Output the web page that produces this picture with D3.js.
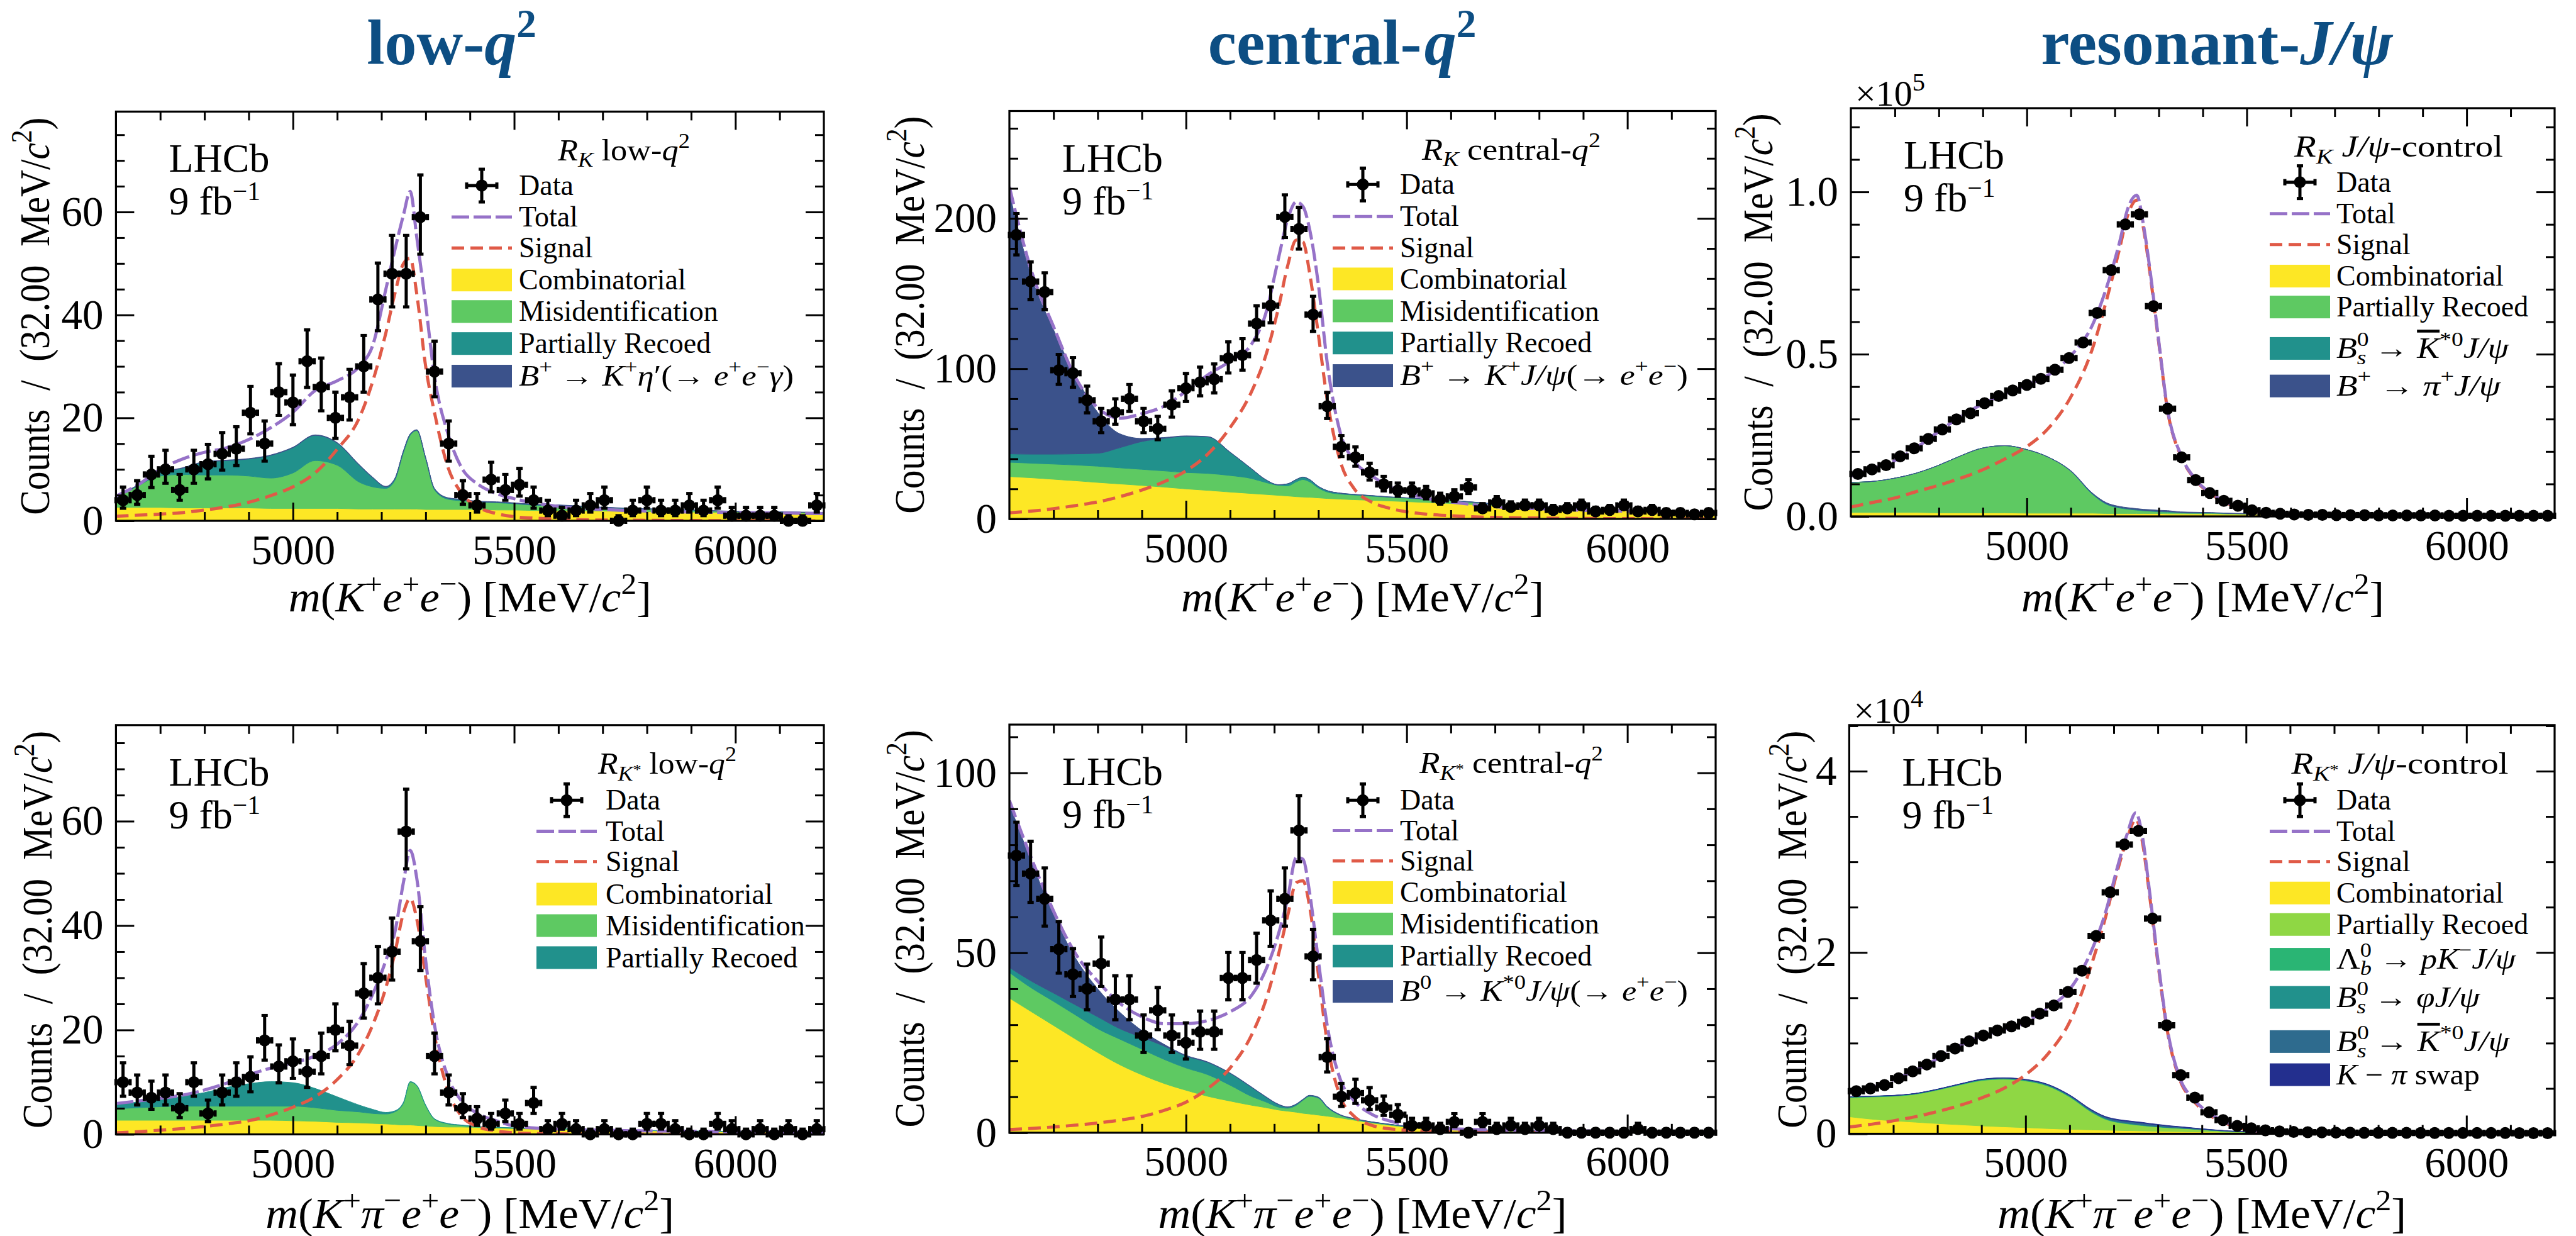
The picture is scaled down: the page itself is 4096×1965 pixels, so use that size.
<!DOCTYPE html>
<html><head><meta charset="utf-8">
<script src="https://cdn.jsdelivr.net/npm/d3@7"></script>
<style>body{margin:0;background:#fff}svg{display:block}text{font-family:"Liberation Serif",serif;fill:#000}</style>
</head><body><script>
// ---------------- DATA ----------------
const binCenters = [4616,4648,4680,4712,4744,4776,4808,4840,4872,4904,4936,4968,5000,5032,5064,5096,5128,5160,5192,5224,5256,5288,5320,5352,5384,5416,5448,5480,5512,5544,5576,5608,5640,5672,5704,5736,5768,5800,5832,5864,5896,5928,5960,5992,6024,6056,6088,6120,6152,6184];
const massGrid = [4600,4650,4700,4750,4800,4850,4900,4950,5000,5050,5100,5150,5180,5210,5230,5250,5265,5280,5300,5320,5350,5380,5420,5460,5500,5550,5600,5700,5800,5900,6000,6100,6200];
const xMajorTicks = [5000,5500,6000];
const xMinorTicks = [4700,4800,4900,5100,5200,5300,5400,5600,5700,5800,5900,6100];

// R_K low-q2
const p1Counts = [4,5,9,10,6,10,11,13,14,21,15,25,23,31,26,20,24,30,43,48,48,59,29,15,5,3,8,6,7,4,2,1,2,3,4,0,2,4,2,2,3,2,4,1,1,1,1,0,0,3];
const p1Total = [4.8,7.0,10.0,12.0,13.3,14.2,15.8,18.1,21.1,25.3,27.2,30,34,45,52.5,59.5,64,55,42,28,17,10.5,7.0,5.3,4.3,3.4,2.8,2.2,1.9,1.7,1.6,1.5,1.4];
const p1Signal = [0.9,1.1,1.3,1.6,2.1,2.7,3.6,4.9,6.6,9.3,13.9,20,27,36.5,44,50,51,44,30,21,10.5,5.5,2.6,1.4,0.8,0.5,0.3,0.15,0.1,0.05,0.03,0.02,0.01];
const p1Comb = [2.6,2.6,2.6,2.5,2.5,2.5,2.5,2.4,2.4,2.4,2.4,2.3,2.3,2.3,2.3,2.3,2.3,2.3,2.2,2.2,2.2,2.2,2.2,2.1,2.1,2.0,2.0,1.9,1.8,1.7,1.6,1.5,1.4];
const p1Misid = [1.8,4.2,6.1,6.5,6.4,6.4,6.2,5.9,6.9,9.3,8.4,5.2,4.3,4.0,5.5,11.0,14.3,15.2,9.8,3.8,2.0,1.7,1.4,1.4,1.2,1.0,0.9,0.6,0.5,0.3,0.2,0.2,0.2];
const p1PartReco = [0.1,0.1,0.6,1.2,2.5,2.8,3.3,4.4,4.9,4.9,4.3,3.3,1.8,0.3,0.3,0.3,0.2,0.1,0.2,0.2,0.2,0.2,0.1,0.1,0.1,0.1,0.1,0.1,0,0.1,0,0,0];
const p1EtaPrime = [0.1,0.1,0.1,0.1,0.1,0.1,0.1,0.1,0.1,0.1,0.1,0.1,0.1,0.1,0.1,0.1,0.1,0.1,0.1,0.1,0.1,0.1,0.1,0.1,0.1,0.1,0.1,0.05,0.05,0.05,0.05,0.05,0.05];

// R_K central-q2
const p2Counts = [189,158,151,99,97,79,65,71,80,65,60,76,87,91,93,107,109,130,142,201,193,136,75,48,41,31,23,19,19,17,13,15,21,7,11,8,9,9,6,7,9,5,6,9,5,6,4,4,3,4];
const p2Total = [221,165,128,94,74,67,70,75,85,96,105,117,136,174,199,211,208,193,156,104,57,39,29,21.6,17.5,13.4,11.3,8.2,6.8,5.8,5.2,4.5,4.1];
const p2Signal = [4.1,5.2,6.8,8.9,11.3,14.8,19.2,24.7,32,43.3,60.8,85.6,108,141,168,185.6,184.5,164,122.7,79.4,38,20.6,11.3,7.2,4.7,3.1,2.1,1.0,0.6,0.3,0.2,0.1,0.1];
const p2Comb = [28.2,27.4,26.4,25.4,24.3,23.3,22.3,21.2,20.0,19.0,17.9,16.9,16.3,15.7,15.3,14.8,14.6,14.4,14.0,13.6,13.2,12.8,12.4,12.0,11.5,10.9,10.3,8.9,7.6,6.6,5.6,4.7,3.9];
const p2Misid = [9.5,9.7,10.1,10.5,10.8,10.7,10.7,10.8,10.9,11.3,11.0,9.9,8.0,6.6,6.7,9.9,11.6,10.3,6.6,4.3,3.3,3.1,2.7,2.4,2.3,2.1,1.9,0.8,0.4,0.3,0.2,0.2,0.2];
const p2PartReco = [5.6,6.0,6.6,7.4,8.6,13.4,18.5,21.6,24.1,24.3,15.4,6.2,1.9,0.4,1.3,1.5,1.6,1.5,1.0,0.9,0.6,0.4,0.4,0.2,0.2,0.2,0.2,0.2,0.2,0.1,0.1,0.1,0.1];
const p2JpsiLeak = [173.7,117.9,82.9,51.7,27.3,9.3,2.1,0.6,0.3,0.2,0.2,0.1,0.1,0.1,0.1,0.1,0.1,0.1,0.1,0.1,0.1,0.1,0.1,0.1,0.1,0.1,0.1,0.1,0.1,0.1,0.1,0.1,0.1];

// R_K J/psi-control (x1e5)
const p3Counts = [0.131,0.145,0.158,0.185,0.210,0.239,0.268,0.299,0.318,0.349,0.371,0.388,0.405,0.424,0.452,0.488,0.536,0.627,0.759,0.900,0.931,0.648,0.332,0.182,0.112,0.072,0.048,0.033,0.019,0.011,0.008,0.006,0.005,0.005,0.004,0.004,0.004,0.003,0.003,0.003,0.003,0.003,0.002,0.002,0.002,0.002,0.002,0.002,0.002,0.002];
const p3Total = [0.124,0.148,0.172,0.213,0.262,0.308,0.347,0.378,0.405,0.437,0.495,0.592,0.70,0.84,0.95,0.99,0.90,0.76,0.54,0.33,0.19,0.12,0.07,0.04,0.022,0.011,0.007,0.004,0.003,0.003,0.002,0.002,0.002];
const p3Signal = [0.029,0.043,0.057,0.077,0.096,0.118,0.144,0.177,0.215,0.273,0.368,0.52,0.66,0.82,0.93,0.975,0.89,0.75,0.535,0.327,0.187,0.118,0.068,0.038,0.02,0.009,0.005,0.002,0.001,0,0,0,0];
const p3Comb = [0.012,0.012,0.012,0.012,0.011,0.011,0.011,0.011,0.010,0.010,0.010,0.010,0.009,0.009,0.009,0.009,0.009,0.009,0.009,0.008,0.008,0.008,0.008,0.007,0.007,0.007,0.006,0.006,0.005,0.005,0.004,0.004,0.004];
const p3PartReco = [0.093,0.096,0.106,0.122,0.147,0.176,0.200,0.207,0.196,0.172,0.129,0.057,0.029,0.017,0.013,0.010,0.008,0.007,0.005,0.005,0.003,0.002,0.002,0.002,0.001,0,0,0,0,0,0,0,0];
const p3BsKst = [0,0,0,0,0,0,0,0,0,0,0.001,0.002,0.002,0.002,0.002,0.002,0.002,0.002,0.002,0.002,0.001,0.001,0.001,0,0,0,0,0,0,0,0,0,0];
const p3BPi = [0,0,0,0,0,0,0,0,0,0,0.001,0.002,0.003,0.003,0.003,0.003,0.003,0.003,0.003,0.003,0.002,0.002,0.001,0.001,0.001,0,0,0,0,0,0,0,0];

// R_K* low-q2
const p4Counts = [10,8,7,8,5,10,4,8,10,11,18,13,14,12,15,20,17,27,30,35,58,37,15,8,5,3,2,4,2,6,1,2,1,0,1,0,0,2,2,1,0,0,2,1,0,1,0,1,0,1];
const p4Total = [5.9,6.4,6.9,7.5,8.5,9.8,11.4,12.7,13.7,15.0,17.3,21.9,26.8,33.3,38.6,48.4,54.4,49,33.3,20.9,11.1,6.5,3.9,2.6,1.6,1.2,1.0,0.8,0.65,0.6,0.5,0.45,0.4];
const p4Signal = [0.3,0.5,0.8,1.1,1.5,2.0,2.6,3.7,5.2,7.2,10.5,15.7,20.9,28.1,34.6,42.5,45.2,41.2,30.1,19.0,8.5,3.6,1.4,0.65,0.3,0.15,0.1,0.05,0.03,0.02,0.01,0.01,0];
const p4Comb = [2.7,2.7,2.7,2.7,2.7,2.7,2.7,2.7,2.6,2.5,2.3,2.2,2.1,2.0,1.9,1.8,1.8,1.7,1.6,1.5,1.4,1.4,1.3,1.2,1.1,1.0,0.95,0.8,0.7,0.6,0.5,0.45,0.4];
const p4Misid = [2.2,2.4,2.6,2.7,2.7,2.7,2.7,2.7,2.8,2.6,2.3,2.1,1.9,1.9,2.4,4.2,8.2,7.6,3.9,1.4,0.6,0.3,0.1,0.1,0.1,0.1,0.1,0.05,0.02,0.02,0.02,0.01,0.01];
const p4PartReco = [0.8,1.1,1.3,1.9,2.6,3.6,4.3,4.7,4.5,3.7,2.6,1.3,0.8,0.3,0.2,0.2,0.1,0.1,0.1,0.1,0.1,0.1,0.1,0.05,0.05,0.05,0.05,0.05,0.03,0.02,0.02,0.01,0.01];

// R_K* central-q2
const p5Counts = [77,72,65,51,44,40,47,37,37,27,34,27,25,28,28,43,43,48,59,65,84,49,21,10,11,9,7,5,2,2,1,3,0,3,1,2,1,2,1,0,0,0,0,0,1,0,0,0,0,0];
const p5Total = [92.3,76.2,61.6,49.7,42.1,36,32.2,30.3,30.3,31.2,33.6,38.4,45,55.4,64.9,76.5,76,66.8,47.8,29.8,14.7,9,5.2,3.3,2.2,1.4,1.1,0.8,0.6,0.5,0.4,0.35,0.3];
const p5Signal = [0.9,1.2,1.6,2.1,2.7,3.5,4.5,6.2,8.5,12.3,18,27.5,36.5,49.7,60.1,69.5,70,63,44,25.1,9.9,4.7,2.1,1.1,0.7,0.4,0.25,0.15,0.1,0.05,0.03,0.02,0.01];
const p5Comb = [37.4,33.6,29.8,26,22.3,18.9,16.1,13.7,11.8,10.1,8.8,7.6,7.0,6.3,6.0,5.7,5.4,5.2,4.9,4.6,4.1,3.5,2.7,2.1,1.5,1.1,0.8,0.5,0.4,0.3,0.25,0.2,0.17];
const p5Misid = [7.1,6.6,6.7,6.7,6.6,7.1,7.1,6.7,6.2,6.0,4.4,2.4,1.6,0.8,0.8,1.9,3.6,4.9,4.7,2.4,0.7,0.3,0.2,0.2,0.2,0.2,0.2,0.15,0.12,0.12,0.08,0.07,0.05];
const p5PartReco = [1.4,1.9,2.3,2.8,3.3,2.9,3.3,3.7,3.3,3.4,3.3,2.5,1.4,0.7,0.3,0.3,0.2,0.2,0.2,0.2,0.1,0.1,0.1,0.05,0.05,0.05,0.05,0.05,0.03,0.03,0.02,0.02,0.02];
const p5JpsiLeak = [45.5,33.2,21.7,13,7.8,4.6,1.9,0.5,0.2,0.15,0.1,0.1,0.1,0.1,0.1,0.1,0.1,0.1,0.1,0.1,0.1,0.1,0.05,0.05,0.05,0.05,0.05,0.05,0.05,0.05,0.05,0.05,0.05];

// R_K* J/psi-control (x1e4)
const p6Counts = [0.470,0.500,0.538,0.613,0.689,0.764,0.858,0.941,1.020,1.084,1.140,1.185,1.234,1.325,1.415,1.565,1.799,2.182,2.664,3.191,3.341,2.374,1.197,0.647,0.399,0.237,0.151,0.087,0.060,0.038,0.026,0.020,0.017,0.015,0.013,0.012,0.011,0.011,0.010,0.010,0.009,0.009,0.009,0.008,0.008,0.008,0.008,0.007,0.007,0.007];
const p6Total = [0.463,0.508,0.595,0.700,0.828,0.971,1.076,1.148,1.234,1.385,1.592,2.024,2.420,2.97,3.30,3.54,3.28,2.72,1.92,1.20,0.613,0.388,0.218,0.117,0.056,0.023,0.015,0.012,0.011,0.010,0.009,0.008,0.008];
const p6Signal = [0.075,0.105,0.143,0.188,0.245,0.312,0.395,0.500,0.651,0.877,1.234,1.874,2.363,2.93,3.25,3.47,3.22,2.68,1.89,1.18,0.595,0.369,0.199,0.105,0.049,0.019,0.008,0.003,0.001,0,0,0,0];
const p6Comb = [0.188,0.162,0.143,0.128,0.113,0.100,0.087,0.077,0.068,0.058,0.049,0.043,0.040,0.037,0.035,0.033,0.031,0.030,0.028,0.026,0.024,0.021,0.019,0.016,0.013,0.011,0.009,0.007,0.006,0.005,0.004,0.004,0.003];
const p6PartReco = [0.211,0.244,0.271,0.308,0.369,0.438,0.500,0.525,0.515,0.469,0.357,0.194,0.122,0.087,0.075,0.065,0.059,0.053,0.047,0.042,0.036,0.031,0.019,0.012,0.006,0.003,0.002,0.001,0.001,0.001,0.001,0,0];
const p6Lb = [0.005,0.005,0.005,0.005,0.005,0.005,0.006,0.006,0.006,0.006,0.006,0.006,0.006,0.005,0.005,0.004,0.004,0.003,0.003,0.002,0.002,0.001,0.001,0,0,0,0,0,0,0,0,0,0];
const p6Phi = [0.003,0.003,0.003,0.003,0.003,0.004,0.004,0.004,0.004,0.004,0.004,0.004,0.004,0.004,0.003,0.003,0.003,0.003,0.002,0.002,0.002,0.001,0.001,0,0,0,0,0,0,0,0,0,0];
const p6BsKst = [0,0,0,0,0,0,0.002,0.003,0.004,0.006,0.008,0.012,0.015,0.018,0.02,0.022,0.022,0.02,0.018,0.015,0.011,0.008,0.005,0.003,0.002,0.001,0,0,0,0,0,0,0];
const p6Swap = [0.002,0.002,0.002,0.002,0.003,0.003,0.003,0.003,0.004,0.004,0.005,0.006,0.006,0.007,0.007,0.007,0.007,0.006,0.006,0.005,0.004,0.003,0.002,0.001,0.001,0,0,0,0,0,0,0,0];

// ---------------- STYLE / LAYOUT ----------------
const S = 0.878;
const W = 4096, H = 1965;
const COL = {comb:"#fde725", misid:"#5ec962", pr:"#21918c", peak:"#3b528b",
  pr6:"#8fd744", lb:"#2ab574", phi:"#21918c", bsk:"#2e6b8e", swap:"#232f8e",
  total:"#9672c8", signal:"#e05a47", title:"#0d4e83"};
const FS = {tick:67, axis:67, leg:46, legT:48, lhcb:64, title:102, mult:58};

const svg = d3.select("body").append("svg").attr("width",W).attr("height",H);

function rich(sel, tokens, fs, len){
  sel.style("white-space","pre");
  let cur = 0;
  for (const tk of tokens){
    const t = tk[0], f = tk[1]||"", o = tk[2]||{};
    const sup = f.includes("^"), sub = f.includes("_");
    const k = o.k || ((sup||sub) ? 0.7 : 1);
    const lvl = (o.s !== undefined) ? o.s : (sup ? 0.42 : (sub ? -0.22 : 0));
    const ts = sel.append("tspan").text(t).attr("font-size", fs*k);
    if (f.includes("i")) ts.attr("font-style","italic");
    if (f.includes("o")) ts.style("text-decoration","overline");
    const dy = -(lvl-cur)*fs;
    if (dy !== 0) ts.attr("dy", dy);
    if (o.dx) ts.attr("dx", o.dx*fs);
    cur = lvl;
  }
  if (len) sel.attr("textLength", len).attr("lengthAdjust","spacingAndGlyphs");
  return sel;
}

const T = {
  data:[["Data",""]], total:[["Total",""]], signal:[["Signal",""]], comb:[["Combinatorial",""]],
  misid:[["Misidentification",""]], pr:[["Partially Recoed",""]],
  eta:[["B","i"],["+","^"],[" → ",""],["K","i"],["+","^"],["η","i"],["′",""],["(→ ",""],["e","i"],["+","^"],["e","i"],["−","^"],["γ","i"],[")",""]],
  kjpsi:[["B","i"],["+","^"],[" → ",""],["K","i"],["+","^"],["J/ψ","i"],["(→ ",""],["e","i"],["+","^"],["e","i"],["−","^"],[")",""]],
  bsk:[["B","i"],["0","^"],["s","_i",{dx:-0.35}],[" → ",""],["K","io"],["*0","^"],["J/ψ","i"]],
  bpi:[["B","i"],["+","^"],[" → ",""],["π","i"],["+","^"],["J/ψ","i"]],
  kst:[["B","i"],["0","^"],[" → ",""],["K","i"],["*0","^"],["J/ψ","i"],["(→ ",""],["e","i"],["+","^"],["e","i"],["−","^"],[")",""]],
  lb:[["Λ",""],["0","^"],["b","_i",{dx:-0.35}],[" → ",""],["pK","i"],["−","^"],["J/ψ","i"]],
  phi:[["B","i"],["0","^"],["s","_i",{dx:-0.35}],[" → ",""],["φJ/ψ","i"]],
  swap:[["K","i"],[" − ",""],["π","i"],[" swap",""]]
};
const E = {
  data:{kind:"data",label:T.data}, total:{kind:"line",color:COL.total,dash:"28,7",label:T.total},
  signal:{kind:"line",color:COL.signal,dash:"20,10",label:T.signal}, comb:{kind:"patch",color:COL.comb,label:T.comb}
};
const RK = [["R","i"],["K","_i"]];
const RKs = [["R","i"],["K","_i"],["*","",{k:0.5,s:-0.02}]];

const xLabK = [["m","i"],["(",""],["K","i"],["+","^"],["e","i"],["+","^"],["e","i"],["−","^"],[") [MeV/",""],["c","i"],["2","^"],["]",""]];
const xLabKs = [["m","i"],["(",""],["K","i"],["+","^"],["π","i"],["−","^"],["e","i"],["+","^"],["e","i"],["−","^"],[") [MeV/",""],["c","i"],["2","^"],["]",""]];
const yLab = [["Counts  /  (32.00  MeV/",""],["c","i"],["2","^"],[")",""]];

const panels = [
 {box:[184.4,177.4,1310,828], yMax:79.5, yMajor:[0,20,40,60], yStep:5, fmt:d3.format("d"), scale:1, ylOff:-130,
  counts:p1Counts, total:p1Total, signal:p1Signal, xlab:xLabK, xlabY:972, xlabW:577,
  comps:[{v:p1Comb,c:COL.comb},{v:p1Misid,c:COL.misid},{v:p1PartReco,c:COL.pr},{v:p1EtaPrime,c:COL.peak}],
  leg:{hx:718, tx:825, tcx:992, tw:210, title:RK.concat([[" low-",""],["q","i"],["2","^"]]), rows:[134,191,247,305,362,420,479],
    entries:[E.data,E.total,E.signal,E.comb,{kind:"patch",color:COL.misid,label:T.misid},{kind:"patch",color:COL.pr,label:T.pr},{kind:"patch",color:COL.peak,label:T.eta,w:437}]}},
 {box:[1605,176.5,2728,825], yMax:271.5, yMajor:[0,100,200], yStep:20, fmt:d3.format("d"), scale:1, ylOff:-159,
  counts:p2Counts, total:p2Total, signal:p2Signal, xlab:xLabK, xlabY:972, xlabW:577,
  comps:[{v:p2Comb,c:COL.comb},{v:p2Misid,c:COL.misid},{v:p2PartReco,c:COL.pr},{v:p2JpsiLeak,c:COL.peak}],
  leg:{hx:2119, tx:2226, tcx:2403, tw:284, title:RK.concat([[" central-",""],["q","i"],["2","^"]]), rows:[133,191,248,304,362,420,479],
    entries:[E.data,E.total,E.signal,E.comb,{kind:"patch",color:COL.misid,label:T.misid},{kind:"patch",color:COL.pr,label:T.pr},{kind:"patch",color:COL.peak,label:T.kjpsi,w:458}]}},
 {box:[2943,172,4062,821], yMax:1.258, yMajor:[0,0.5,1.0], yStep:0.1, fmt:d3.format(".1f"), scale:1e5, ylOff:-148, mult:"5",
  counts:p3Counts, total:p3Total, signal:p3Signal, xlab:xLabK, xlabY:972, xlabW:577,
  comps:[{v:p3Comb,c:COL.comb},{v:p3PartReco,c:COL.misid},{v:p3BsKst,c:COL.pr},{v:p3BPi,c:COL.peak}],
  leg:{hx:3609, tx:3715, tcx:3814, tw:332, title:RK.concat([[" ",""],["J/ψ","i"],["-control",""]]), rows:[134,191,247,304,360,435,503],
    entries:[E.data,E.total,E.signal,E.comb,{kind:"patch",color:COL.misid,label:T.pr},{kind:"patch",color:COL.pr,label:T.bsk,w:274},{kind:"patch",color:COL.peak,label:T.bpi,w:261}]}},
 {box:[184.4,1152.8,1310,1803.4], yMax:78.4, yMajor:[0,20,40,60], yStep:5, fmt:d3.format("d"), scale:1, ylOff:-126,
  counts:p4Counts, total:p4Total, signal:p4Signal, xlab:xLabKs, xlabY:1952, xlabW:650,
  comps:[{v:p4Comb,c:COL.comb},{v:p4Misid,c:COL.misid},{v:p4PartReco,c:COL.pr}],
  leg:{hx:853, tx:963, tcx:1061, tw:220, title:RKs.concat([[" low-",""],["q","i"],["2","^"]]), rows:[136,192,247,306,363,421],
    entries:[E.data,E.total,E.signal,E.comb,{kind:"patch",color:COL.misid,label:T.misid},{kind:"patch",color:COL.pr,label:T.pr}]}},
 {box:[1605,1152,2728,1800.8], yMax:113.4, yMajor:[0,50,100], yStep:10, fmt:d3.format("d"), scale:1, ylOff:-159,
  counts:p5Counts, total:p5Total, signal:p5Signal, xlab:xLabKs, xlabY:1952, xlabW:650,
  comps:[{v:p5Comb,c:COL.comb},{v:p5Misid,c:COL.misid},{v:p5PartReco,c:COL.pr},{v:p5JpsiLeak,c:COL.peak}],
  leg:{hx:2119, tx:2226, tcx:2403, tw:292, title:RKs.concat([[" central-",""],["q","i"],["2","^"]]), rows:[137,192,247,304,361,419,483],
    entries:[E.data,E.total,E.signal,E.comb,{kind:"patch",color:COL.misid,label:T.misid},{kind:"patch",color:COL.pr,label:T.pr},{kind:"patch",color:COL.peak,label:T.kst,w:458}]}},
 {box:[2940.4,1152.8,4062,1802.5], yMax:4.508, yMajor:[0,2,4], yStep:0.5, fmt:d3.format("d"), scale:1e4, ylOff:-92, mult:"4",
  counts:p6Counts, total:p6Total, signal:p6Signal, xlab:xLabKs, xlabY:1952, xlabW:650,
  comps:[{v:p6Comb,c:COL.comb},{v:p6PartReco,c:COL.pr6},{v:p6Lb,c:COL.lb},{v:p6Phi,c:COL.phi},{v:p6BsKst,c:COL.bsk},{v:p6Swap,c:COL.swap}],
  leg:{hx:3609, tx:3715, tcx:3816, tw:345, title:RKs.concat([[" ",""],["J/ψ","i"],["-control",""]]), rows:[136,192,247,304,361,424,493,573,633],
    entries:[E.data,E.total,E.signal,E.comb,{kind:"patch",color:COL.pr6,label:T.pr},{kind:"patch",color:COL.lb,label:T.lb,w:285},{kind:"patch",color:COL.phi,label:T.phi,w:228},{kind:"patch",color:COL.bsk,label:T.bsk,w:275},{kind:"patch",color:COL.swap,label:T.swap,w:228}]}}
];

// ---------------- TITLES ----------------
const titles = [{cx:718, tk:[["low-",""],["q","i"],["2","^",{k:0.62}]]},{cx:2134, tk:[["central-",""],["q","i",{dx:0.04}],["2","^",{k:0.62}]]},{cx:3525, tk:[["resonant-",""],["J/ψ","i"]]}];
titles.forEach(t=>{
  const el = svg.append("text").attr("x",t.cx).attr("y",102).attr("text-anchor","middle")
    .attr("font-size",FS.title).attr("font-weight","bold").style("fill",COL.title);
  rich(el, t.tk, FS.title);
});

// ---------------- PANELS ----------------
panels.forEach((p,pi)=>{
  const [x0,y0,x1,y1] = p.box;
  const x = d3.scaleLinear().domain([4600,6200]).range([x0,x1]);
  const y = d3.scaleLinear().domain([0,p.yMax]).range([y1,y0]);
  const clipId = "clip"+pi;
  svg.append("clipPath").attr("id",clipId).append("rect").attr("x",x0).attr("y",y0).attr("width",x1-x0).attr("height",y1-y0);
  const plot = svg.append("g").attr("clip-path",`url(#${clipId})`);

  // stacked backgrounds
  const keys = p.comps.map((c,i)=>"c"+i);
  const rows = massGrid.map((m,j)=>{const r={m}; p.comps.forEach((c,i)=>{r["c"+i]=c.v[j];}); return r;});
  const series = d3.stack().keys(keys)(rows);
  const area = d3.area().x(d=>x(d.data.m)).y0(d=>y(d[0])).y1(d=>y(d[1])).curve(d3.curveMonotoneX);
  plot.selectAll("path.stk").data(series).join("path").attr("class","stk").attr("d",area)
    .attr("fill",(d,i)=>p.comps[i].c).attr("stroke",(d,i)=>p.comps[i].c).attr("stroke-width",1);

  const line = d3.line().x((d,j)=>x(massGrid[j])).y(d=>y(d)).curve(d3.curveMonotoneX);
  plot.append("path").attr("d",line(p.signal)).attr("fill","none").attr("stroke",COL.signal)
    .attr("stroke-width",5).attr("stroke-dasharray","20,10");
  plot.append("path").attr("d",line(p.total)).attr("fill","none").attr("stroke",COL.total)
    .attr("stroke-width",5).attr("stroke-dasharray","28,7");

  // data points
  const dg = svg.append("g").attr("stroke","#000").attr("stroke-width",5);
  p.counts.forEach((v,k)=>{
    const m = binCenters[k];
    const n = v*p.scale;
    const r = Math.sqrt(n+0.25);
    const lo = Math.max(0,(r-0.5))/p.scale, hi = (r+0.5)/p.scale;
    const cx = x(m), cy = y(v);
    const ya = y(Math.max(0,v-lo)), yb = Math.max(y0, y(v+hi));
    const xa = x(m-16), xb = x(m+16);
    const cap = 5;
    dg.append("line").attr("x1",cx).attr("x2",cx).attr("y1",ya).attr("y2",yb);
    dg.append("line").attr("x1",cx-cap).attr("x2",cx+cap).attr("y1",ya).attr("y2",ya);
    dg.append("line").attr("x1",cx-cap).attr("x2",cx+cap).attr("y1",yb).attr("y2",yb);
    dg.append("line").attr("x1",xa).attr("x2",xb).attr("y1",cy).attr("y2",cy);
    dg.append("line").attr("x1",xa).attr("x2",xa).attr("y1",cy-cap).attr("y2",cy+cap);
    dg.append("line").attr("x1",xb).attr("x2",xb).attr("y1",cy-cap).attr("y2",cy+cap);
    dg.append("circle").attr("cx",cx).attr("cy",cy).attr("r",9.5).attr("fill","#000").attr("stroke","none");
  });

  // axes (ticks inward on all sides)
  const MAJ = 29, MIN = 14;
  const yMinor = d3.range(0, p.yMax+1e-9, p.yStep).filter(v=>!p.yMajor.some(mj=>Math.abs(mj-v)<1e-9));
  const ax = svg.append("g");
  function put(gen, tr){ const g = ax.append("g").attr("transform",tr).call(gen); g.select(".domain").remove();
    g.selectAll("line").attr("stroke","#000").attr("stroke-width",3);
    g.attr("font-family",null).attr("font-size",null);
    g.selectAll("text").attr("font-size",FS.tick).style("font-family",'"Liberation Serif",serif'); return g; }
  put(d3.axisBottom(x).tickValues(xMajorTicks).tickSize(-MAJ).tickPadding(21).tickFormat(d3.format("d")), `translate(0,${y1})`);
  put(d3.axisBottom(x).tickValues(xMinorTicks).tickSize(-MIN).tickFormat(""), `translate(0,${y1})`);
  put(d3.axisTop(x).tickValues(xMajorTicks).tickSize(-MAJ).tickFormat(""), `translate(0,${y0})`);
  put(d3.axisTop(x).tickValues(xMinorTicks).tickSize(-MIN).tickFormat(""), `translate(0,${y0})`);
  put(d3.axisLeft(y).tickValues(p.yMajor).tickSize(-MAJ).tickPadding(20).tickFormat(p.fmt), `translate(${x0},0)`);
  put(d3.axisLeft(y).tickValues(yMinor).tickSize(-MIN).tickFormat(""), `translate(${x0},0)`);
  put(d3.axisRight(y).tickValues(p.yMajor).tickSize(-MAJ).tickFormat(""), `translate(${x1},0)`);
  put(d3.axisRight(y).tickValues(yMinor).tickSize(-MIN).tickFormat(""), `translate(${x1},0)`);
  svg.append("rect").attr("x",x0).attr("y",y0).attr("width",x1-x0).attr("height",y1-y0)
    .attr("fill","none").attr("stroke","#000").attr("stroke-width",3.2);

  // axis labels
  rich(svg.append("text").attr("x",(x0+x1)/2).attr("y",p.xlabY).attr("text-anchor","middle").attr("font-size",FS.axis), p.xlab, FS.axis, p.xlabW);
  const ylx = x0 + p.ylOff + 0.35*FS.axis, yly = (y0+y1)/2;
  rich(svg.append("text").attr("transform",`translate(${ylx},${yly}) rotate(-90)`).attr("text-anchor","middle").attr("font-size",FS.axis), yLab, FS.axis, 632);

  if (p.mult) rich(svg.append("text").attr("x",x0+7).attr("y",y0-4).attr("font-size",FS.mult), [["×10",""],[p.mult,"^"]], FS.mult);

  // LHCb label
  svg.append("text").attr("x",x0+84).attr("y",y0+96).attr("font-size",FS.lhcb).text("LHCb");
  rich(svg.append("text").attr("x",x0+84).attr("y",y0+164).attr("font-size",FS.lhcb), [["9 fb",""],["−1","^",{k:0.65,s:0.36}]], FS.lhcb);

  // legend
  const L = p.leg, lf = FS.leg, hw = 96;
  rich(svg.append("text").attr("x",L.tcx).attr("y",y0+88*S).attr("text-anchor","middle").attr("font-size",FS.legT), L.title, FS.legT, L.tw);
  L.entries.forEach((e,i)=>{
    const cy = y0 + L.rows[i]*S;
    const hx = L.hx, hc = hx + hw/2;
    if (e.kind==="data"){
      const lg = svg.append("g").attr("stroke","#000").attr("stroke-width",5);
      lg.append("line").attr("x1",hc-24).attr("x2",hc+24).attr("y1",cy).attr("y2",cy);
      lg.append("line").attr("x1",hc).attr("x2",hc).attr("y1",cy-26).attr("y2",cy+26);
      [[hc-24,hc-24,cy-5,cy+5],[hc+24,hc+24,cy-5,cy+5],[hc-5,hc+5,cy-26,cy-26],[hc-5,hc+5,cy+26,cy+26]].forEach(a=>
        lg.append("line").attr("x1",a[0]).attr("x2",a[1]).attr("y1",a[2]).attr("y2",a[3]));
      lg.append("circle").attr("cx",hc).attr("cy",cy).attr("r",9.5).attr("fill","#000").attr("stroke","none");
    } else if (e.kind==="line"){
      svg.append("line").attr("x1",hx).attr("x2",hx+hw).attr("y1",cy).attr("y2",cy)
        .attr("stroke",e.color).attr("stroke-width",5).attr("stroke-dasharray",e.dash);
    } else {
      svg.append("rect").attr("x",hx).attr("y",cy-18).attr("width",hw).attr("height",36).attr("fill",e.color);
    }
    rich(svg.append("text").attr("x",L.tx).attr("y",cy+0.33*lf).attr("font-size",lf), e.label, lf, e.w);
  });
});
</script></body></html>
